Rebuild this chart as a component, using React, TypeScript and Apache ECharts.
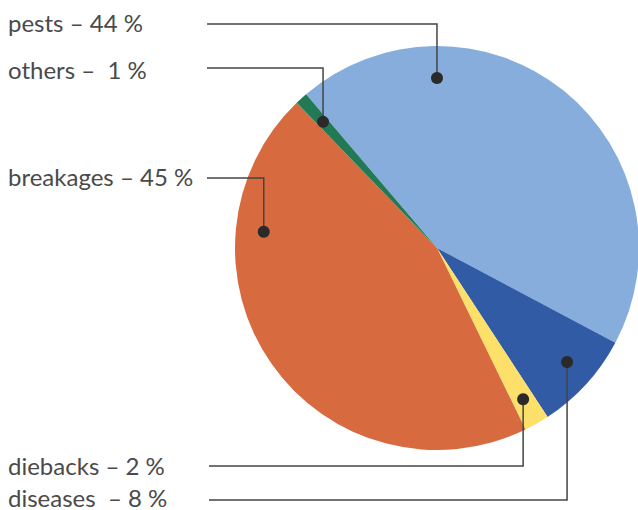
import React, { useEffect, useRef } from "react";
import * as echarts from "echarts";

const categories = ["pests", "diseases", "diebacks", "breakages", "others"];
const values = [44, 8, 2, 45, 1];
const labelTexts = ["pests – 44 %", "diseases  – 8 %", "diebacks – 2 %", "breakages – 45 %", "others –  1 %"];
const colors = ["#86ADDC", "#325BA6", "#FCE06A", "#D86A3F", "#227A55"];

// layout of annotations
const CX = 437;
const CY = 248;
const R = 202;
const START_ANGLE = 130.4;
const anchorFrac = [0.255, 0.46, 0.49, 0.749, 0.53]; // position of dot along slice
const anchorRad = [170, 173, 174, 174, 170];
const labelY = [22, 497, 465, 176, 69];
const lineY = [24, 500, 466, 178, 68];
const lineStartX = [207, 209, 209, 207, 207];

function anchorPoint(i: number): [number, number] {
  const total = values.reduce((a, b) => a + b, 0);
  let before = 0;
  for (let k = 0; k < i; k++) before += values[k];
  const ang = START_ANGLE - ((before + values[i] * anchorFrac[i]) / total) * 360;
  const rad = (ang * Math.PI) / 180;
  return [CX + anchorRad[i] * Math.cos(rad), CY - anchorRad[i] * Math.sin(rad)];
}

export default function App() {
  const ref = useRef<HTMLDivElement>(null);
  useEffect(() => {
    const chart = echarts.init(ref.current!, undefined, { renderer: "svg" });
    const leaders: any[] = [];
    categories.forEach((_, i) => {
      const [x, y] = anchorPoint(i);
      leaders.push({
        type: "polyline",
        shape: {
          points: [
            [x, y],
            [x, lineY[i]],
            [lineStartX[i], lineY[i]],
          ],
        },
        style: { stroke: "#444444", lineWidth: 1.5, fill: null },
        z: 100,
      });
      leaders.push({
        type: "circle",
        shape: { cx: x, cy: y, r: 6 },
        style: { fill: "#2a2a2a" },
        z: 101,
      });
    });
    chart.setOption({
      animation: false,
      backgroundColor: "#ffffff",
      graphic: leaders,
      series: [
        {
          type: "pie",
          center: [CX, CY],
          radius: R,
          startAngle: START_ANGLE,
          clockwise: true,
          avoidLabelOverlap: false,
          data: categories.map((c, i) => ({
            name: c,
            value: values[i],
            itemStyle: { color: colors[i] },
          })),
          itemStyle: { borderWidth: 0 },
          emphasis: { disabled: true },
          label: {
            show: true,
            position: "outside",
            formatter: (p: any) => labelTexts[p.dataIndex],
            fontFamily: "Lato",
            fontSize: 24,
            lineHeight: 22,
            color: "#4a4a4a",
          },
          labelLine: { show: false },
          labelLayout: (params: any) => {
            const i = params.dataIndex;
            return {
              x: 8,
              y: labelY[i],
              align: "left",
              verticalAlign: "middle",
            };
          },
        },
      ],
    });
    return () => chart.dispose();
  }, []);
  return (
    <div
      ref={ref}
      style={{ position: "fixed", left: 0, top: 0, width: 638, height: 510 }}
    />
  );
}
